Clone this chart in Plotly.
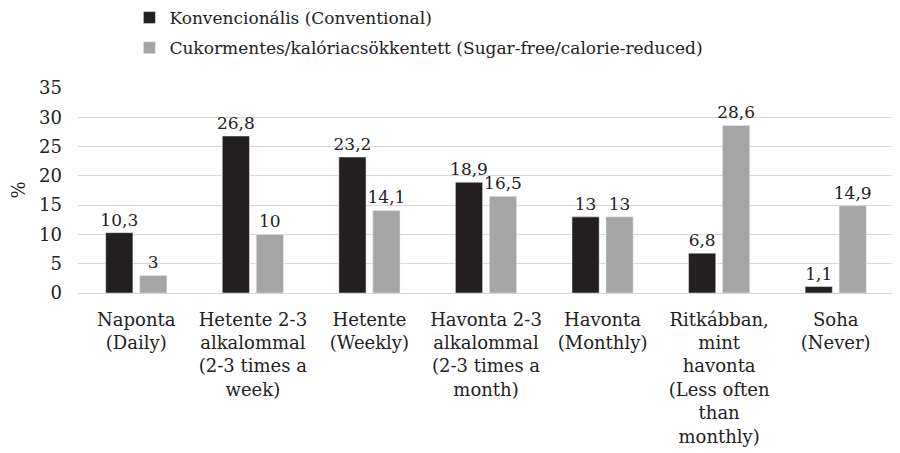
import plotly.graph_objects as go

categories = [
    "Naponta<br>(Daily)",
    "Hetente 2-3<br>alkalommal<br>(2-3 times a<br>week)",
    "Hetente<br>(Weekly)",
    "Havonta 2-3<br>alkalommal<br>(2-3 times a<br>month)",
    "Havonta<br>(Monthly)",
    "Ritkábban,<br>mint<br>havonta<br>(Less often<br>than<br>monthly)",
    "Soha<br>(Never)",
]
conventional = [10.3, 26.8, 23.2, 18.9, 13, 6.8, 1.1]
sugar_free = [3, 10, 14.1, 16.5, 13, 28.6, 14.9]
series_names = ["Konvencionális (Conventional)",
                "Cukormentes/kalóriacsökkentett (Sugar-free/calorie-reduced)"]
y_ticks = [0, 5, 10, 15, 20, 25, 30, 35]

FONT = "DejaVu Serif"
TXT = "#222222"

def fmt(v):
    return (f"{v:g}").replace(".", ",")

fig = go.Figure()
fig.add_trace(go.Bar(
    x=categories, y=conventional, name=series_names[0], legendgroup="a",
    marker=dict(color="#231f20"),
    text=[fmt(v) for v in conventional], textposition="outside",
    constraintext="none",
    textfont=dict(family=FONT, size=17, color=TXT), cliponaxis=False,
))
fig.add_trace(go.Bar(
    x=categories, y=sugar_free, name=series_names[1], legendgroup="b",
    marker=dict(color="#a5a5a5"),
    text=[fmt(v) for v in sugar_free], textposition="outside",
    constraintext="none",
    textfont=dict(family=FONT, size=17, color=TXT), cliponaxis=False,
))

# page body has an 8px default margin, so the figure is 8px smaller
fig.update_layout(
    width=892, height=445,
    margin=dict(l=70, r=6, t=80, b=160, autoexpand=False),
    paper_bgcolor="white", plot_bgcolor="white",
    barmode="group", bargap=0.417, bargroupgap=0.2,
    font=dict(family=FONT, size=17, color=TXT),
    showlegend=True,
    legend=dict(
        orientation="v", x=0.063, y=1.429, xanchor="left", yanchor="top",
        yref="paper", xref="paper",
        font=dict(family=FONT, size=17, color=TXT),
        traceorder="grouped", tracegroupgap=5, bgcolor="rgba(0,0,0,0)",
    ),
    xaxis=dict(
        tickfont=dict(family=FONT, size=18, color=TXT),
        showline=True, linecolor="#d4d4d4", linewidth=1,
        ticks="", showgrid=False, tickangle=0, automargin=False,
        ticklabelstandoff=10,
    ),
    yaxis=dict(
        range=[0, 35], tickvals=y_ticks, ticktext=[str(t) for t in y_ticks],
        tickfont=dict(family=FONT, size=18, color=TXT),
        showgrid=True, gridcolor="#d9d9d9", gridwidth=1,
        zeroline=False, showline=False, ticks="", automargin=False,
        ticklabelstandoff=15,
    ),
    annotations=[dict(
        text="%", textangle=-90, xref="paper", yref="paper",
        x=-0.0735, y=0.5, xanchor="center", yanchor="middle",
        showarrow=False, font=dict(family=FONT, size=18, color=TXT),
    )],
)

fig.write_html("out.html")
